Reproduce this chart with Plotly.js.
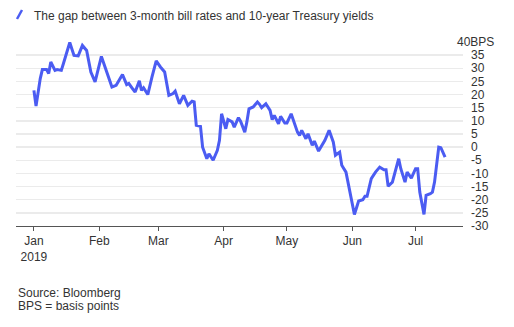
<!DOCTYPE html>
<html>
<head>
<meta charset="utf-8">
<script src="https://cdn.plot.ly/plotly-3.0.1.min.js"></script>
<style>html,body{margin:0;padding:0;background:#fff;}#chart{width:514px;height:327px;}</style>
</head>
<body>
<div id="chart"></div>
<script>
// Spread between 3-month bill rates and 10-year Treasury yields (basis points)
const dates = [
  '2019-01-01','2019-01-02','2019-01-04','2019-01-05','2019-01-07','2019-01-08','2019-01-09','2019-01-11','2019-01-12','2019-01-14',
  '2019-01-15','2019-01-18','2019-01-20','2019-01-22','2019-01-24','2019-01-26','2019-01-28','2019-01-30','2019-02-02','2019-02-04',
  '2019-02-05','2019-02-07','2019-02-09','2019-02-12','2019-02-14','2019-02-15','2019-02-17','2019-02-18','2019-02-20','2019-02-21',
  '2019-02-22','2019-02-24','2019-02-26','2019-02-28','2019-03-02','2019-03-04','2019-03-06','2019-03-08','2019-03-09','2019-03-11',
  '2019-03-13','2019-03-15','2019-03-17','2019-03-18','2019-03-19','2019-03-21','2019-03-22','2019-03-24','2019-03-25','2019-03-27',
  '2019-03-29','2019-03-30','2019-03-31','2019-04-02','2019-04-03','2019-04-05','2019-04-06','2019-04-08','2019-04-09','2019-04-11',
  '2019-04-12','2019-04-13','2019-04-15','2019-04-17','2019-04-18','2019-04-19','2019-04-21','2019-04-23','2019-04-24','2019-04-25',
  '2019-04-27','2019-04-28','2019-04-30','2019-05-01','2019-05-03','2019-05-04','2019-05-06','2019-05-07','2019-05-08','2019-05-10',
  '2019-05-11','2019-05-13','2019-05-14','2019-05-16','2019-05-18','2019-05-19','2019-05-21','2019-05-23','2019-05-24','2019-05-26',
  '2019-05-27','2019-05-29','2019-06-02','2019-06-04','2019-06-06','2019-06-07','2019-06-08','2019-06-10','2019-06-12','2019-06-14',
  '2019-06-16','2019-06-17','2019-06-18','2019-06-20','2019-06-23','2019-06-24','2019-06-26','2019-06-27','2019-06-29','2019-07-01',
  '2019-07-02','2019-07-03','2019-07-05','2019-07-06','2019-07-08','2019-07-09','2019-07-10','2019-07-12','2019-07-13','2019-07-15'
];
const gapBps = [
  21.6,15.6,26.1,29.5,29.5,28.0,32.4,29.2,29.5,29.2,
  31.8,39.8,34.9,34.7,38.7,36.8,28.6,24.8,34.5,29.9,
  28.0,22.9,23.5,27.6,23.8,24.2,22.0,21.0,25.2,21.6,
  22.6,20.0,26.7,32.8,30.5,28.6,19.7,20.4,21.3,16.5,
  19.7,15.9,17.5,17.2,8.3,7.9,0.0,-4.4,-2.5,-5.0,
  -1.2,2.6,12.7,7.0,10.5,9.6,7.6,11.2,9.9,5.7,
  9.6,14.6,15.3,17.2,16.3,15.0,16.5,14.0,10.5,12.1,
  8.9,11.7,9.2,9.2,12.7,10.2,5.7,4.5,6.4,3.2,
  5.1,0.7,2.3,-1.5,1.3,2.6,6.4,1.9,-3.1,-1.9,
  -6.9,-9.5,-25.6,-20.5,-20.0,-18.7,-18.7,-12.0,-9.5,-7.6,
  -8.6,-8.6,-14.9,-13.3,-4.4,-8.2,-13.3,-9.5,-11.8,-8.2,
  -8.2,-17.1,-25.6,-18.3,-17.7,-17.1,-13.3,0.0,-0.2,-3.8
];
const monthTickVals = ['2019-01-01','2019-02-01','2019-03-01','2019-04-01','2019-05-01','2019-06-01','2019-07-01'];
const monthTickText = ['Jan<br>2019','Feb','Mar','Apr','May','Jun','Jul'];
const yTickVals = [40,35,30,25,20,15,10,5,0,-5,-10,-15,-20,-25,-30];
const yTickText = ['','35','30','25','20','15','10','5','0','-5','-10','-15','-20','-25','-30'];
const titleText = 'The gap between 3-month bill rates and 10-year Treasury yields';
const topLabel = '40BPS';
const footer1 = 'Source: Bloomberg';
const footer2 = 'BPS = basis points';

const blue = '#4b5cf2';
const fontFam = '"Liberation Sans", Arial, sans-serif';

const trace = {
  x: dates, y: gapBps, type: 'scatter', mode: 'lines',
  line: {color: blue, width: 3}, hoverinfo: 'skip', showlegend: false
};

const layout = {
  width: 514, height: 327,
  margin: {l: 16, r: 51, t: 42, b: 101},
  paper_bgcolor: '#fff', plot_bgcolor: '#fff',
  font: {family: fontFam, size: 12, color: '#333'},
  title: {
    text: titleText, font: {family: fontFam, size: 12, color: '#333'},
    xref: 'container', yref: 'container', x: 34/514, xanchor: 'left', y: 1 - 16/327, yanchor: 'middle'
  },
  xaxis: {
    type: 'date', range: ['2018-12-23 12:00', '2019-07-23 12:00'],
    tickmode: 'array', tickvals: monthTickVals, ticktext: monthTickText,
    showgrid: false, zeroline: false,
    showline: true, linecolor: '#555', linewidth: 1,
    ticks: 'outside', ticklen: 4, tickcolor: '#555', tickwidth: 1,
    tickfont: {family: fontFam, size: 12, color: '#333'}, fixedrange: true
  },
  yaxis: {
    range: [-30, 40], side: 'right',
    tickmode: 'array', tickvals: yTickVals, ticktext: yTickText,
    showgrid: true, gridcolor: '#ebebeb', gridwidth: 1.5,
    zeroline: false, showline: false, ticks: '',
    ticklabelstandoff: 7,
    tickfont: {family: fontFam, size: 12, color: '#333'}, fixedrange: true
  },
  shapes: [
    {type: 'line', xref: 'paper', yref: 'paper', x0: (17-16)/447, x1: (22-16)/447,
     y0: (226-19)/184, y1: (226-10)/184, line: {color: blue, width: 2.5}},
    {type: 'rect', xref: 'paper', yref: 'paper', x0: (438-16)/447, x1: 1.0,
     y0: 0.985, y1: 1.012, line: {width: 0}, fillcolor: '#fff', layer: 'above'}
  ],
  annotations: [
    {text: topLabel, xref: 'paper', yref: 'y', x: (455-16)/447, y: 40, xanchor: 'left', yanchor: 'middle',
     showarrow: false, font: {family: fontFam, size: 12, color: '#333'}},
    {text: footer1, xref: 'paper', yref: 'paper', x: 0, y: (226-292.7)/184, xanchor: 'left', yanchor: 'middle',
     showarrow: false, font: {family: fontFam, size: 12, color: '#333'}},
    {text: footer2, xref: 'paper', yref: 'paper', x: 0, y: (226-306)/184, xanchor: 'left', yanchor: 'middle',
     showarrow: false, font: {family: fontFam, size: 12, color: '#333'}}
  ]
};

Plotly.newPlot('chart', [trace], layout, {displayModeBar: false, staticPlot: true});
</script>
</body>
</html>
